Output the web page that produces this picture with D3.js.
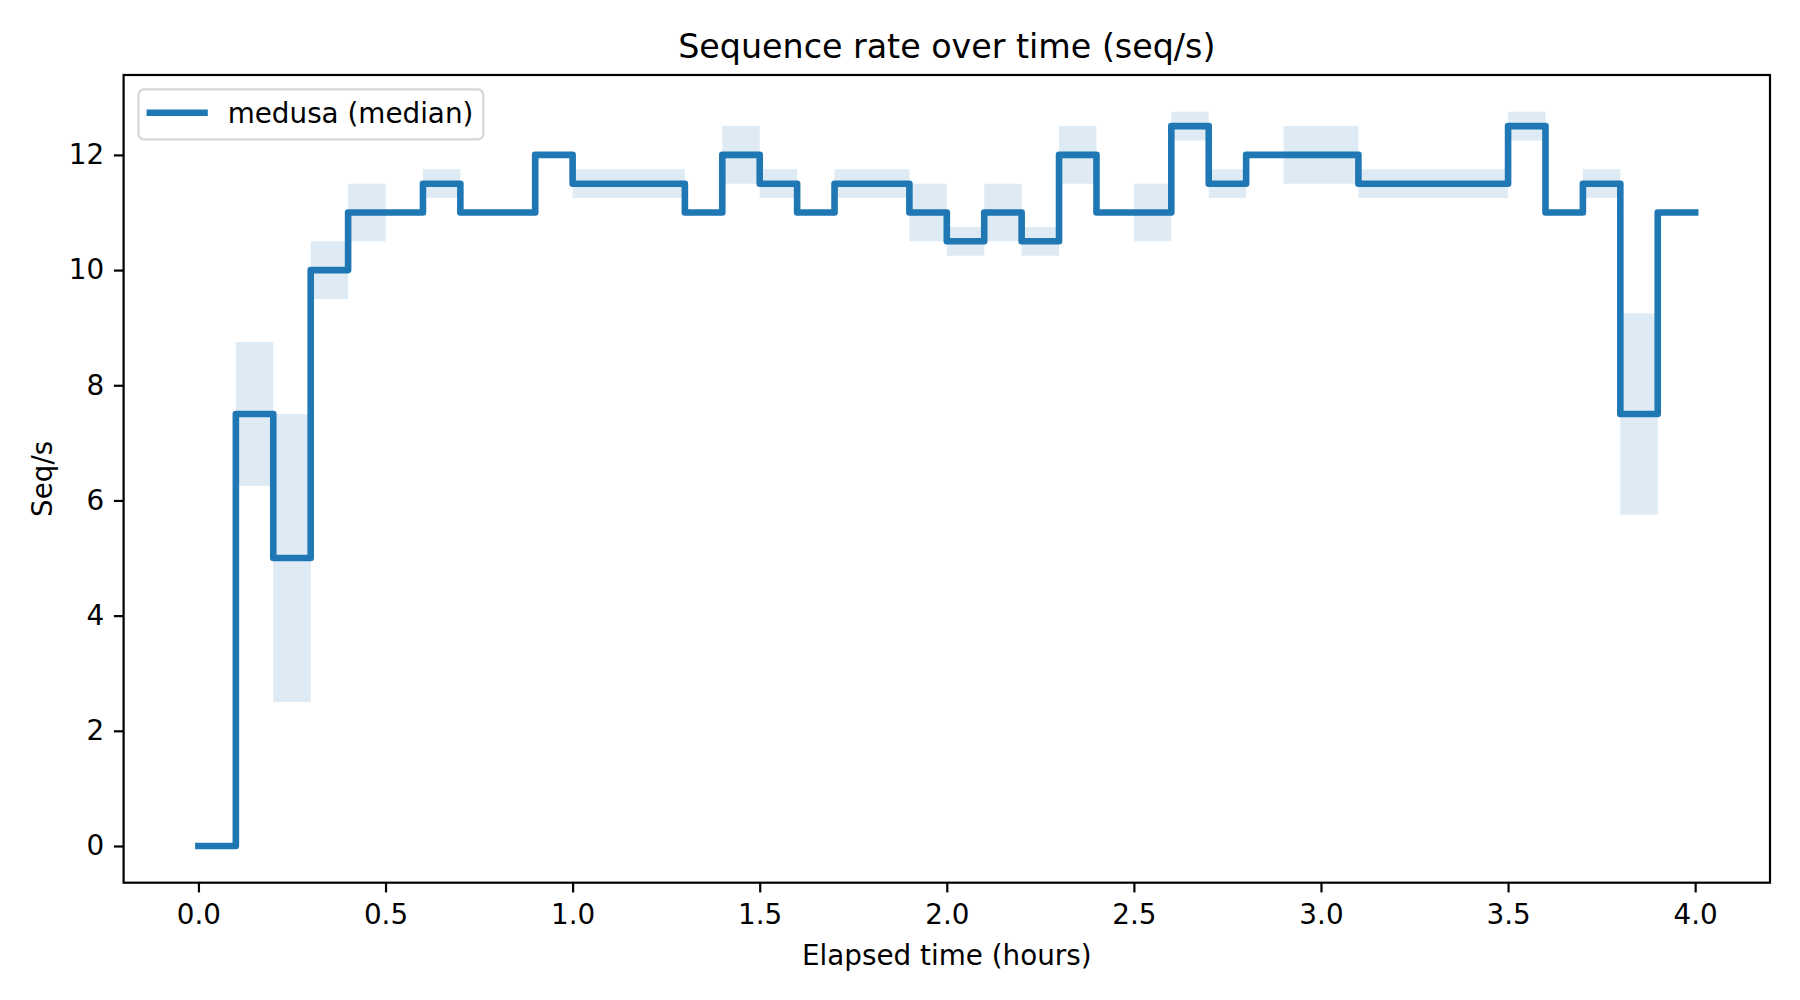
<!DOCTYPE html>
<html>
<head>
<meta charset="utf-8">
<script src="https://cdn.jsdelivr.net/npm/d3@7"></script>
<style>
  body { margin: 0; background: #fff; }
  svg { display: block; font-family: "DejaVu Sans", sans-serif; }
</style>
</head>
<body>
<script>
// elapsed hours, one point per 6 minutes
const hours = [0.0, 0.1, 0.2, 0.3, 0.4, 0.5, 0.6, 0.7, 0.8, 0.9,
  1.0, 1.1, 1.2, 1.3, 1.4, 1.5, 1.6, 1.7, 1.8, 1.9,
  2.0, 2.1, 2.2, 2.3, 2.4, 2.5, 2.6, 2.7, 2.8, 2.9,
  3.0, 3.1, 3.2, 3.3, 3.4, 3.5, 3.6, 3.7, 3.8, 3.9, 4.0]
const median = [0, 7.5, 5, 10, 11, 11, 11.5, 11, 11, 12,
  11.5, 11.5, 11.5, 11, 12, 11.5, 11, 11.5, 11.5, 11,
  10.5, 11, 10.5, 12, 11, 11, 12.5, 11.5, 12, 12,
  12, 11.5, 11.5, 11.5, 11.5, 12.5, 11, 11.5, 7.5, 11, 11]
const low = [0, 6.25, 2.5, 9.5, 10.5, 11, 11.25, 11, 11, 12,
  11.25, 11.25, 11.25, 11, 11.5, 11.25, 11, 11.25, 11.25, 10.5,
  10.25, 10.5, 10.25, 11.5, 11, 10.5, 12.25, 11.25, 12, 11.5,
  11.5, 11.25, 11.25, 11.25, 11.25, 12.25, 11, 11.25, 5.75, 11, 11]
const high = [0, 8.75, 7.5, 10.5, 11.5, 11, 11.75, 11, 11, 12,
  11.75, 11.75, 11.75, 11, 12.5, 11.75, 11, 11.75, 11.75, 11.5,
  10.75, 11.5, 10.75, 12.5, 11, 11.5, 12.75, 11.75, 12, 12.5,
  12.5, 11.75, 11.75, 11.75, 11.75, 12.75, 11, 11.75, 9.25, 11, 11]
const xTicks = [0, 0.5, 1, 1.5, 2, 2.5, 3, 3.5, 4]
const yTicks = [0, 2, 4, 6, 8, 10, 12]

const width = 1800
const height = 1000
const plotL = 123.6, plotR = 1770, plotT = 75, plotB = 882.7
const blue = "#1f77b4"
const tick = 9.7

const rows = hours.map((h, i) => ({ h: h, m: median[i], lo: low[i], hi: high[i] }))

const svg = d3.select("body")
  .append("svg")
  .attr("width", width)
  .attr("height", height)

const x = d3.scaleLinear().domain([-0.2, 4.2]).range([plotL, plotR])
const y = d3.scaleLinear().domain([-0.6375, 13.3875]).range([plotB, plotT])

// IQR band
const band = d3.area()
  .curve(d3.curveStepAfter)
  .x(d => x(d.h))
  .y0(d => y(d.lo))
  .y1(d => y(d.hi))

svg.append("path")
  .datum(rows)
  .attr("d", band)
  .attr("fill", blue)
  .attr("fill-opacity", 0.15)

const line = d3.line()
  .curve(d3.curveStepAfter)
  .x(d => x(d.h))
  .y(d => y(d.m))

svg.append("path")
  .datum(rows)
  .attr("d", line)
  .attr("fill", "none")
  .attr("stroke", blue)
  .attr("stroke-width", 6.6)
  .attr("stroke-linejoin", "round")
  .attr("stroke-linecap", "square")

// axes
svg.append("g")
  .attr("transform", `translate(0,${plotB})`)
  .call(d3.axisBottom(x).tickValues(xTicks).tickFormat(d3.format(".1f"))
    .tickSize(tick).tickPadding(11.5))
svg.append("g")
  .attr("transform", `translate(${plotL},0)`)
  .call(d3.axisLeft(y).tickValues(yTicks).tickFormat(d3.format("d"))
    .tickSize(tick).tickPadding(tick))

svg.selectAll(".domain").remove()
svg.selectAll(".tick line").attr("stroke", "#000").attr("stroke-width", 2.2)
svg.selectAll(".tick text")
  .attr("fill", "#000")
  .style("font-family", "DejaVu Sans")
  .style("font-size", "27.8px")

svg.append("rect")
  .attr("x", plotL)
  .attr("y", plotT)
  .attr("width", plotR - plotL)
  .attr("height", plotB - plotT)
  .attr("fill", "none")
  .attr("stroke", "#000")
  .attr("stroke-width", 2.2)

// titles
svg.append("text")
  .attr("x", (plotL + plotR) / 2)
  .attr("y", 58.3)
  .attr("text-anchor", "middle")
  .style("font-size", "33.3px")
  .text("Sequence rate over time (seq/s)")

svg.append("text")
  .attr("x", (plotL + plotR) / 2)
  .attr("y", 965)
  .attr("text-anchor", "middle")
  .style("font-size", "27.8px")
  .text("Elapsed time (hours)")

svg.append("text")
  .attr("transform", `translate(52,${(plotT + plotB) / 2}) rotate(-90)`)
  .attr("text-anchor", "middle")
  .style("font-size", "27.8px")
  .text("Seq/s")

// legend
const legend = svg.append("g")
legend.append("rect")
  .attr("x", 138.5)
  .attr("y", 89.3)
  .attr("width", 344.8)
  .attr("height", 50)
  .attr("rx", 5.5)
  .attr("fill", "#fff")
  .attr("fill-opacity", 0.8)
  .attr("stroke", "#d6d6d6")
  .attr("stroke-width", 2.2)
legend.append("line")
  .attr("x1", 146.6)
  .attr("x2", 207.8)
  .attr("y1", 112.7)
  .attr("y2", 112.7)
  .attr("stroke", blue)
  .attr("stroke-width", 6.6)
legend.append("text")
  .attr("x", 227.7)
  .attr("y", 122.5)
  .style("font-size", "27.8px")
  .text("medusa (median)")
</script>
</body>
</html>
